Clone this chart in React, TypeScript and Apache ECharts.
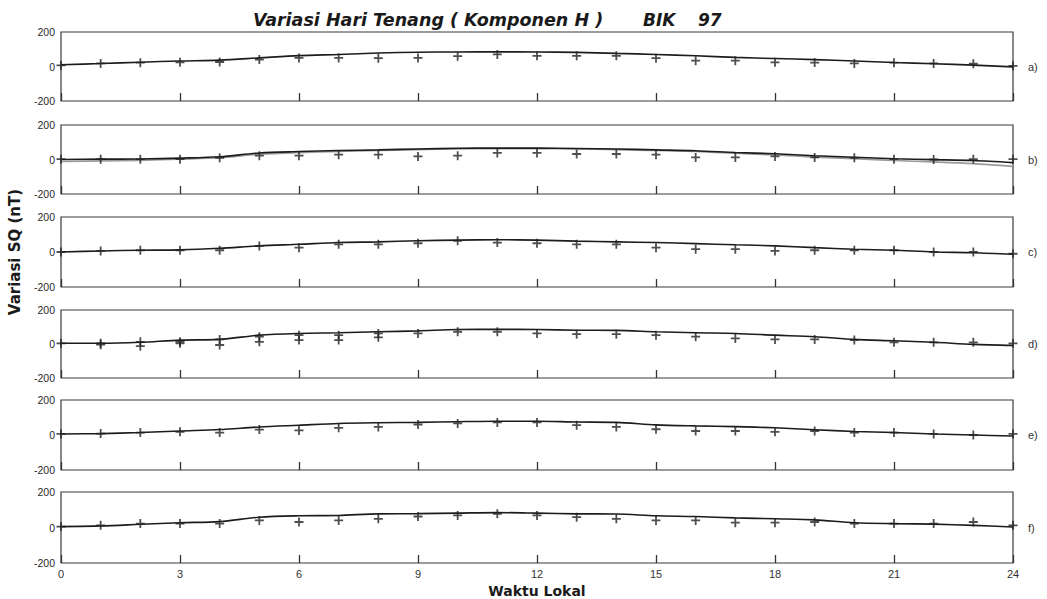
import React, { useEffect, useRef } from "react";
import * as echarts from "echarts";

const hours = [0, 1, 2, 3, 4, 5, 6, 7, 8, 9, 10, 11, 12, 13, 14, 15, 16, 17, 18, 19, 20, 21, 22, 23, 24];
const xTickValues = [0, 3, 6, 9, 12, 15, 18, 21, 24];
const yTickValues = [-200, 0, 200];

const aLine = [10, 17, 25, 32, 37, 50, 63, 70, 78, 83, 84, 85, 84, 82, 76, 70, 62, 53, 46, 40, 32, 23, 16, 8, -2];
const aMark = [6, 18, 22, 24, 26, 40, 50, 50, 48, 50, 60, 70, 62, 62, 62, 48, 34, 34, 24, 23, 18, 22, 18, 16, 4];

const bLine = [0, 2, 3, 8, 16, 38, 46, 52, 56, 61, 65, 66, 66, 64, 61, 56, 51, 41, 33, 22, 13, 4, -1, -6, -18];
const bLine2 = [-12, -8, -5, 2, 10, 30, 40, 46, 52, 57, 61, 63, 63, 61, 57, 52, 46, 36, 26, 14, 5, -6, -14, -24, -40];
const bMark = [2, 2, 2, 2, 10, 22, 22, 28, 28, 18, 22, 38, 38, 32, 32, 28, 12, 12, 18, 12, 10, 2, 0, 2, 2];

const cLine = [0, 6, 10, 12, 21, 35, 44, 54, 58, 64, 68, 70, 68, 62, 58, 54, 48, 41, 35, 25, 16, 10, 0, -4, -13];
const cMark = [0, 6, 10, 10, 10, 35, 25, 44, 44, 50, 64, 54, 50, 44, 44, 25, 16, 16, 6, 10, 10, 10, 0, 0, -10];

const dLine = [4, 4, 10, 23, 27, 52, 62, 66, 72, 77, 85, 86, 85, 81, 80, 72, 66, 62, 52, 43, 27, 19, 10, -2, -8];
const dMark = [4, 4, 13, 13, 27, 43, 52, 52, 62, 62, 72, 72, 62, 58, 58, 52, 43, 33, 27, 27, 23, 10, 10, 10, 4];
const dMark2 = [null, -4, -13, 4, -6, 13, 23, 23, 39, null, null, null, null, null, null, null, null, null, null, null, null, null, null, null, null];

const eLine = [6, 8, 14, 23, 31, 46, 56, 66, 70, 72, 76, 79, 79, 74, 72, 58, 52, 48, 41, 30, 20, 14, 6, 0, -6];
const eMark = [6, 8, 14, 18, 14, 31, 26, 41, 46, 60, 66, 72, 72, 56, 46, 33, 23, 23, 18, 23, 14, 14, 6, 0, 6];

const fLine = [5, 9, 18, 27, 33, 58, 66, 68, 77, 78, 81, 84, 81, 77, 76, 66, 62, 54, 49, 43, 27, 22, 19, 12, 3];
const fMark = [5, 12, 22, 22, 22, 40, 31, 40, 49, 62, 68, 77, 68, 58, 49, 40, 40, 27, 27, 31, 22, 22, 22, 31, 12];

const panelLabels = ["a)", "b)", "c)", "d)", "e)", "f)"];
const titleMain = "Variasi Hari Tenang ( Komponen H )";
const titleStation = "BIK";
const titleYear = "97";
const xName = "Waktu Lokal";
const yName = "Variasi SQ (nT)";

const PLUS = "path://M4,0h2v4h4v2h-4v4h-2v-4h-4v-2h4z";

function pairs(ys: (number | null)[]) {
  const out: [number, number][] = [];
  ys.forEach((v, i) => {
    if (v !== null && v !== undefined) out.push([hours[i], v]);
  });
  return out;
}

export default function App() {
  const ref = useRef<HTMLDivElement>(null);
  useEffect(() => {
    document.body.style.margin = "0";
    const chart = echarts.init(ref.current!, null, { renderer: "svg" });
    const tops = [32, 125, 217, 310, 400, 492];
    const heights = [69, 69, 70, 68, 70, 71];
    const left = 61;
    const width = 952;
    const panels = [
      { lines: [{ d: aLine, c: "#1c1c1c" }], marks: [aMark] },
      { lines: [{ d: bLine2, c: "#9a9a9a" }, { d: bLine, c: "#1c1c1c" }], marks: [bMark] },
      { lines: [{ d: cLine, c: "#1c1c1c" }], marks: [cMark] },
      { lines: [{ d: dLine, c: "#1c1c1c" }], marks: [dMark, dMark2] },
      { lines: [{ d: eLine, c: "#1c1c1c" }], marks: [eMark] },
      { lines: [{ d: fLine, c: "#1c1c1c" }], marks: [fMark] },
    ];
    const font = "Liberation Sans";
    const grid = tops.map((t, i) => ({
      left,
      width,
      top: t,
      height: heights[i],
      show: true,
      borderColor: "#3a3a3a",
      borderWidth: 1.2,
      backgroundColor: "transparent",
    }));
    const xAxis = tops.map((_, i) => ({
      gridIndex: i,
      type: "value",
      position: "bottom",
      min: xTickValues[0],
      max: xTickValues[xTickValues.length - 1],
      interval: xTickValues[1] - xTickValues[0],
      axisLine: { show: false, onZero: false },
      splitLine: { show: false },
      axisTick: { show: true, inside: true, length: 8, lineStyle: { color: "#333", width: 1.3 } },
      axisLabel: { show: i === tops.length - 1, color: "#333", fontSize: 11, fontFamily: font, margin: 5 },
    }));
    const yAxis = tops.map((_, i) => ({
      gridIndex: i,
      type: "value",
      min: yTickValues[0],
      max: yTickValues[yTickValues.length - 1],
      interval: yTickValues[1] - yTickValues[0],
      axisLine: { show: false, onZero: false },
      axisTick: { show: false },
      splitLine: { show: false },
      axisLabel: { color: "#2a2a2a", fontSize: 10.5, fontFamily: font, margin: 6 },
    }));
    const series: any[] = [];
    panels.forEach((p, i) => {
      p.lines.forEach((l) => {
        series.push({
          type: "line",
          xAxisIndex: i,
          yAxisIndex: i,
          data: pairs(l.d),
          showSymbol: false,
          smooth: 0.3,
          lineStyle: { color: l.c, width: 1.6 },
          z: 2,
        });
      });
      p.marks.forEach((m) => {
        series.push({
          type: "scatter",
          xAxisIndex: i,
          yAxisIndex: i,
          data: pairs(m),
          symbol: PLUS,
          symbolSize: 9,
          itemStyle: { color: "#222" },
          z: 3,
        });
      });
    });
    const graphic: any[] = [
      {
        type: "text",
        x: 253,
        y: 20,
        style: { text: titleMain, fill: "#1a1a1a", font: "italic bold 17.5px 'DejaVu Sans'", textVerticalAlign: "middle" },
      },
      {
        type: "text",
        x: 643,
        y: 20,
        style: { text: titleStation, fill: "#1a1a1a", font: "italic bold 17px 'DejaVu Sans'", textVerticalAlign: "middle" },
      },
      {
        type: "text",
        x: 698,
        y: 20,
        style: { text: titleYear, fill: "#1a1a1a", font: "italic bold 17px 'DejaVu Sans'", textVerticalAlign: "middle" },
      },
      {
        type: "text",
        x: 537,
        y: 591,
        style: { text: xName, fill: "#1a1a1a", font: "bold 14px 'DejaVu Sans'", textAlign: "center", textVerticalAlign: "middle" },
      },
      {
        type: "text",
        x: 15,
        y: 252,
        rotation: Math.PI / 2,
        style: { text: yName, fill: "#1a1a1a", font: "bold 15px 'DejaVu Sans'", textAlign: "center", textVerticalAlign: "middle" },
      },
    ];
    panelLabels.forEach((lab, i) => {
      graphic.push({
        type: "text",
        x: 1028,
        y: tops[i] + heights[i] / 2,
        style: { text: lab, fill: "#333", font: "11px 'Liberation Sans'", textVerticalAlign: "middle" },
      });
    });
    chart.setOption({
      animation: false,
      backgroundColor: "#ffffff",
      grid,
      xAxis,
      yAxis,
      series,
      graphic,
    });
    return () => chart.dispose();
  }, []);
  return <div ref={ref} style={{ width: 1047, height: 599 }} />;
}
